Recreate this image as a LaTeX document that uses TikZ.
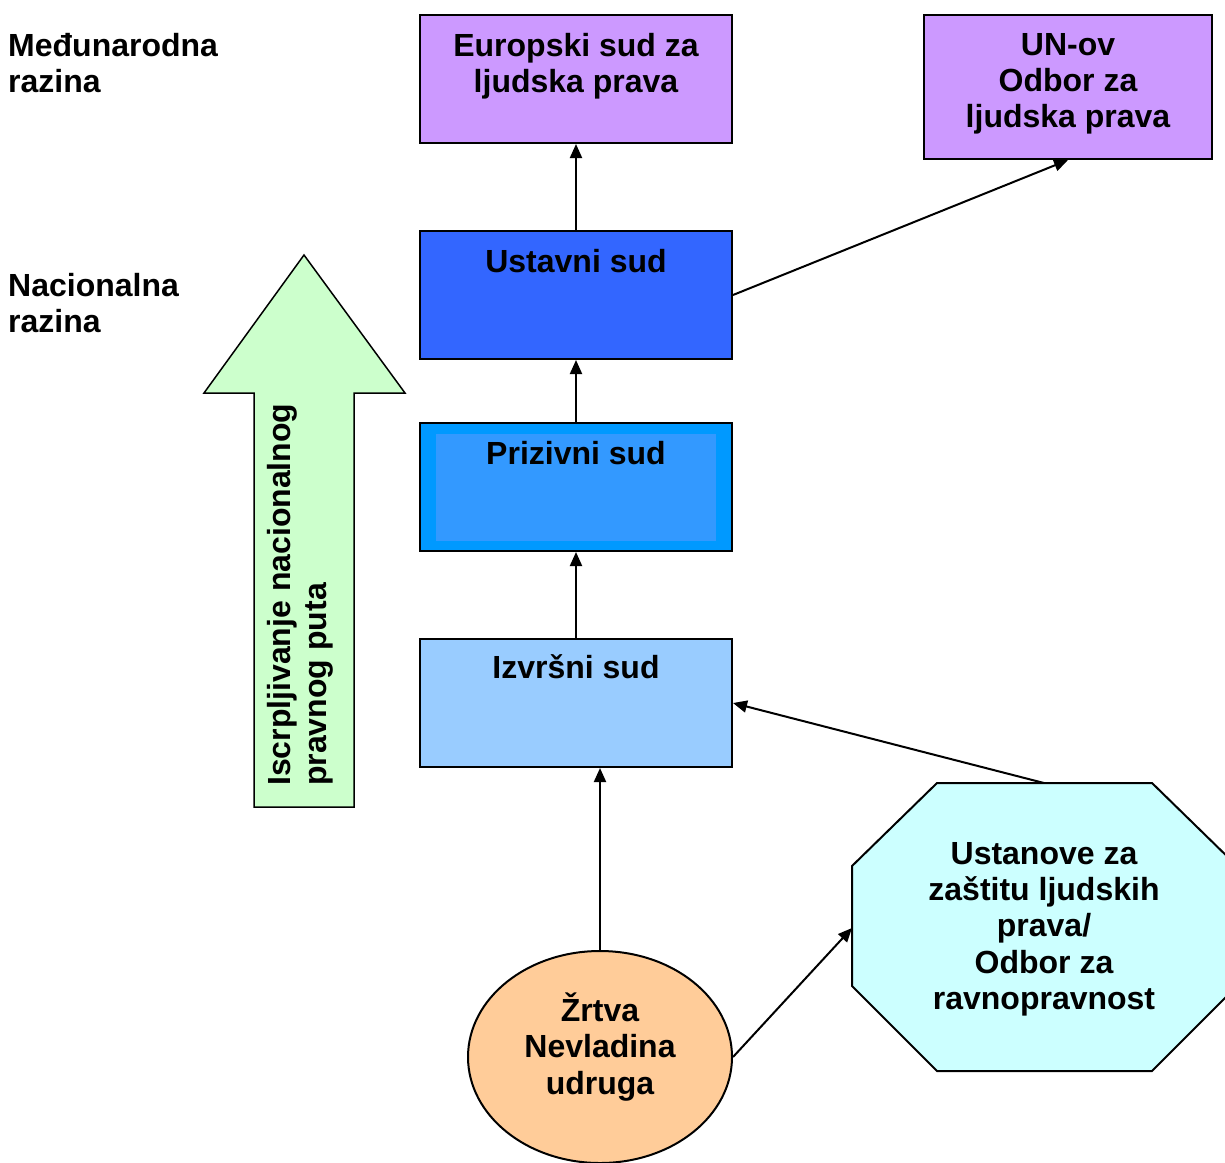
\documentclass[tikz,border=0pt]{standalone}
\usepackage{fontspec}
\setmainfont{Liberation Sans}
\usetikzlibrary{arrows.meta,shapes.geometric}
\definecolor{lila}{HTML}{CC99FF}
\definecolor{ustblue}{HTML}{3366FF}
\definecolor{priout}{HTML}{0099FF}
\definecolor{priin}{HTML}{3399FF}
\definecolor{izvblue}{HTML}{99CCFF}
\definecolor{arrgreen}{HTML}{CCFFCC}
\definecolor{octcyan}{HTML}{CCFFFF}
\definecolor{ellorange}{HTML}{FFCC99}
\tikzset{
  courtbox/.style={draw=black, line width=2pt, rectangle, inner sep=0pt},
  lbl/.style={font=\fontsize{32}{36.3}\selectfont\bfseries, align=center, inner sep=0pt},
  conn/.style={draw=black, line width=2pt, -{Triangle[length=14pt,width=12pt]}},
}
\begin{document}
\begin{tikzpicture}[x=1pt,y=-1pt]
\useasboundingbox (0,0) rectangle (1225,1162);
% left level labels
\node[lbl, align=left, anchor=west] (intl) at (8,63) {Međunarodna\\razina};
\node[lbl, align=left, anchor=west] (natl) at (8,303) {Nacionalna\\razina};
% green arrow
\draw[fill=arrgreen, line width=1.5pt, line join=miter]
  (254,807) -- (254,393) -- (204,393) -- (304,255) -- (405,393) -- (354,393) -- (354,807) -- cycle;
\node[lbl, align=left, anchor=west, rotate=90] (iscr) at (300,786) {Iscrpljivanje nacionalnog\\pravnog puta};
% boxes
\node[courtbox, fill=lila, minimum width=312pt, minimum height=128pt] (eur) at (576,79) {};
\node[lbl] (eurt) at (576,66) {Europski sud za\\ljudska prava};
\node[courtbox, fill=lila, minimum width=288pt, minimum height=144pt] (un) at (1068,87) {};
\node[lbl] (unt) at (1068,84) {UN-ov\\Odbor za\\ljudska prava};
\node[courtbox, fill=ustblue, minimum width=312pt, minimum height=128pt] (ust) at (576,295) {};
\node[lbl] (ustt) at (576,261) {Ustavni sud};
\node[courtbox, fill=priout, minimum width=312pt, minimum height=128pt] (pri) at (576,487) {};
\fill[priin] (436,434) rectangle (716,541);
\node[lbl] (prit) at (576,453) {Prizivni sud};
\node[courtbox, fill=izvblue, minimum width=312pt, minimum height=128pt] (izv) at (576,703) {};
\node[lbl] (izvt) at (576,667) {Izvršni sud};
% octagon
\draw[fill=octcyan, line width=2pt]
  (937,783) -- (1152,783) -- (1237,866) -- (1237,986) -- (1152,1071) -- (937,1071) -- (852,986) -- (852,866) -- cycle;
\coordinate (octtop) at (1044,783);
\coordinate (octleft) at (852,928);
\node[lbl] (octt) at (1044,929) {Ustanove za\\zaštitu ljudskih\\prava/\\Odbor za\\ravnopravnost};
% ellipse
\node[ellipse, draw=black, line width=2pt, fill=ellorange, minimum width=264pt, minimum height=212pt, inner sep=0pt] (zrt) at (600,1057) {};
\node[lbl] (zrtt) at (600,1047) {Žrtva\\Nevladina\\udruga};
% connectors
\draw[conn] (izv.north) -- (pri.south);
\draw[conn] (pri.north) -- (ust.south);
\draw[conn] (ust.north) -- (eur.south);
\draw[conn] (ust.east) -- (un.south);
\draw[conn] (octtop) -- (izv.east);
\draw[conn] (zrt.north) -- (zrt.north |- izv.south);
\draw[conn] (zrt.east) -- (octleft);
\end{tikzpicture}
\end{document}
